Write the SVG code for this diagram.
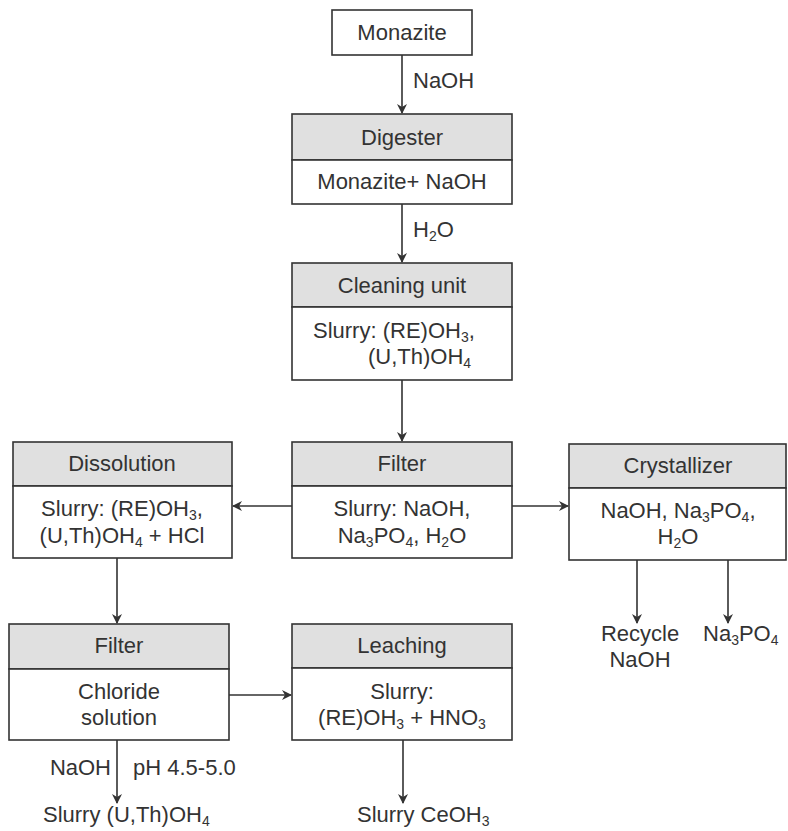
<svg xmlns="http://www.w3.org/2000/svg" width="788" height="831" viewBox="0 0 788 831">
<style>
text{font-family:"Liberation Sans",Arial,sans-serif;font-size:22px;fill:#333;}
.m{text-anchor:middle;}
.s{font-size:14px;}
.box{fill:#fff;stroke:#333;stroke-width:1.6;}
.hd{fill:#e0e0e0;stroke:#333;stroke-width:1.6;}
.c{stroke:#333;stroke-width:1.6;fill:none;marker-end:url(#ah);}
</style>
<defs>
<marker id="ah" markerWidth="10" markerHeight="10" refX="9" refY="5" orient="auto" markerUnits="userSpaceOnUse">
<path d="M0,0 L10,5 L0,10 L3,5 z" fill="#333"/>
</marker>
</defs>
<rect width="788" height="831" fill="#fff"/>
<g id="connectors">
<line class="c" x1="402" y1="55" x2="402" y2="113"/>
<line class="c" x1="402" y1="204" x2="402" y2="262"/>
<line class="c" x1="402" y1="380" x2="402" y2="441"/>
<line class="c" x1="292" y1="506" x2="233" y2="506"/>
<line class="c" x1="512" y1="506" x2="568" y2="506"/>
<line class="c" x1="637" y1="560" x2="637" y2="623"/>
<line class="c" x1="728" y1="560" x2="728" y2="623"/>
<line class="c" x1="117" y1="558" x2="117" y2="623"/>
<line class="c" x1="229" y1="695" x2="291" y2="695"/>
<line class="c" x1="117" y1="740" x2="117" y2="803"/>
<line class="c" x1="403" y1="740" x2="403" y2="803"/>
<text x="413" y="88">NaOH</text>
<text x="413" y="237">H<tspan class="s" dy="4">2</tspan><tspan dy="-4">O</tspan></text>
<text x="111" y="775" text-anchor="end">NaOH</text>
<text x="133" y="775">pH 4.5-5.0</text>
<text x="43" y="822">Slurry (U,Th)OH<tspan class="s" dy="4">4</tspan></text>
<text x="357" y="822">Slurry CeOH<tspan class="s" dy="4">3</tspan></text>
<text x="640" y="641" class="m">Recycle</text>
<text x="640" y="667" class="m">NaOH</text>
<text x="703" y="641">Na<tspan class="s" dy="4">3</tspan><tspan dy="-4">PO</tspan><tspan class="s" dy="4">4</tspan></text>
</g>
<g id="monazite">
<rect class="box" x="332" y="10" width="140" height="45"/>
<text x="402" y="40" class="m">Monazite</text>
</g>
<g id="digester">
<rect class="hd" x="292" y="114" width="220" height="46"/>
<rect class="box" x="292" y="160" width="220" height="44"/>
<text x="402" y="145" class="m">Digester</text>
<text x="402" y="189" class="m">Monazite+ NaOH</text>
</g>
<g id="cleaning">
<rect class="hd" x="292" y="263" width="220" height="44"/>
<rect class="box" x="292" y="307" width="220" height="73"/>
<text x="402" y="293" class="m">Cleaning unit</text>
<text x="313" y="338">Slurry: (RE)OH<tspan class="s" dy="4">3</tspan><tspan dy="-4">,</tspan></text>
<text x="368" y="364">(U,Th)OH<tspan class="s" dy="4">4</tspan></text>
</g>
<g id="filter1">
<rect class="hd" x="292" y="442" width="220" height="44"/>
<rect class="box" x="292" y="486" width="220" height="72"/>
<text x="402" y="471" class="m">Filter</text>
<text x="402" y="516" class="m">Slurry: NaOH,</text>
<text x="402" y="543" class="m">Na<tspan class="s" dy="4">3</tspan><tspan dy="-4">PO</tspan><tspan class="s" dy="4">4</tspan><tspan dy="-4">, H</tspan><tspan class="s" dy="4">2</tspan><tspan dy="-4">O</tspan></text>
</g>
<g id="dissolution">
<rect class="hd" x="13" y="442" width="219" height="44"/>
<rect class="box" x="13" y="486" width="219" height="72"/>
<text x="122" y="471" class="m">Dissolution</text>
<text x="122" y="516" class="m">Slurry: (RE)OH<tspan class="s" dy="4">3</tspan><tspan dy="-4">,</tspan></text>
<text x="122" y="543" class="m">(U,Th)OH<tspan class="s" dy="4">4</tspan><tspan dy="-4"> + HCl</tspan></text>
</g>
<g id="crystallizer">
<rect class="hd" x="569" y="444" width="217" height="44"/>
<rect class="box" x="569" y="488" width="217" height="72"/>
<text x="678" y="473" class="m">Crystallizer</text>
<text x="678" y="518" class="m">NaOH, Na<tspan class="s" dy="4">3</tspan><tspan dy="-4">PO</tspan><tspan class="s" dy="4">4</tspan><tspan dy="-4">,</tspan></text>
<text x="678" y="544" class="m">H<tspan class="s" dy="4">2</tspan><tspan dy="-4">O</tspan></text>
</g>
<g id="filter2">
<rect class="hd" x="9" y="624" width="220" height="45"/>
<rect class="box" x="9" y="669" width="220" height="71"/>
<text x="119" y="653" class="m">Filter</text>
<text x="119" y="699" class="m">Chloride</text>
<text x="119" y="725" class="m">solution</text>
</g>
<g id="leaching">
<rect class="hd" x="292" y="624" width="220" height="44"/>
<rect class="box" x="292" y="668" width="220" height="72"/>
<text x="402" y="653" class="m">Leaching</text>
<text x="402" y="699" class="m">Slurry:</text>
<text x="402" y="725" class="m">(RE)OH<tspan class="s" dy="4">3</tspan><tspan dy="-4"> + HNO</tspan><tspan class="s" dy="4">3</tspan></text>
</g>
</svg>
